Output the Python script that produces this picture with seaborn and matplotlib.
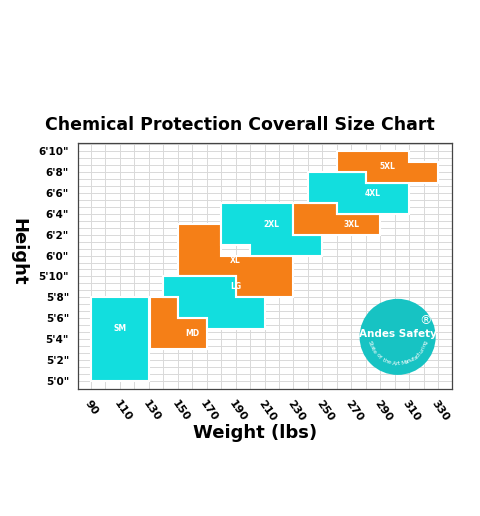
import numpy as np
import matplotlib
matplotlib.use("Agg")
import matplotlib.pyplot as plt
from matplotlib.patches import Polygon, Ellipse
import seaborn as sns

sns.set_style("white")
plt.rcParams['font.family'] = ['DejaVu Sans']
plt.rcParams['text.color'] = 'black'
plt.rcParams['xtick.color'] = 'black'
plt.rcParams['ytick.color'] = 'black'

# size outlines: (weight lbs, height inches)
sizes = ["SM", "MD", "LG", "XL", "2XL", "3XL", "4XL", "5XL"]
outlines = {
    "SM": [(90, 60), (130, 60), (130, 68), (90, 68)],
    "MD": [(131, 63), (170, 63), (170, 66), (150, 66), (150, 68), (131, 68)],
    "XL": [(150, 70), (150, 75), (180, 75), (180, 72), (230, 72), (230, 68), (190, 68), (190, 70)],
    "LG": [(140, 70), (190, 70), (190, 68), (210, 68), (210, 65), (170, 65), (170, 66), (150, 66), (150, 68), (140, 68)],
    "2XL": [(180, 77), (230, 77), (230, 74), (250, 74), (250, 72), (200, 72), (200, 73), (180, 73)],
    "3XL": [(230, 74), (290, 74), (290, 76), (260, 76), (260, 77), (230, 77)],
    "4XL": [(240, 77), (240, 80), (280, 80), (280, 79), (310, 79), (310, 76), (260, 76), (260, 77)],
    "5XL": [(260, 82), (310, 82), (310, 81), (330, 81), (330, 79), (280, 79), (280, 80), (260, 80)],
}
label_pos = {"SM": (110, 65), "MD": (160, 64.5), "LG": (190, 69), "XL": (190, 71.5),
             "2XL": (215, 75), "3XL": (270, 75), "4XL": (285, 78), "5XL": (295, 80.5)}
colors = {"SM": "#12DEDE", "MD": "#F57F17", "LG": "#12DEDE", "XL": "#F57F17",
          "2XL": "#12DEDE", "3XL": "#F57F17", "4XL": "#12DEDE", "5XL": "#F57F17"}
draw_order = ["SM", "MD", "XL", "LG", "2XL", "3XL", "4XL", "5XL"]

x_ticks = list(range(90, 331, 20))
y_ticks = list(range(60, 83, 2))
y_labels = ['5\'0"', '5\'2"', '5\'4"', '5\'6"', '5\'8"', '5\'10"', '6\'0"',
            '6\'2"', '6\'4"', '6\'6"', '6\'8"', '6\'10"']

fig = plt.figure(figsize=(4.8, 5.16), dpi=100)
ax = fig.add_axes([78 / 480, 1 - 389 / 516, 374 / 480, 246 / 516])
ax.set_xlim(81, 339.6)
ax.set_ylim(59.2, 82.8)

for x in range(90, 331, 10):
    ax.axvline(x, color="#d9d9d9", lw=0.7, zorder=0)
for y in np.arange(60, 83, 2 / 3):
    ax.axhline(y, color="#d9d9d9", lw=0.7, zorder=0)

for s in draw_order:
    ax.add_patch(Polygon(outlines[s], closed=True, fc=colors[s], ec="white", lw=1.5, zorder=2))
for s in sizes:
    ax.text(*label_pos[s], s, color="white", fontsize=5.5, fontweight="bold",
            ha="center", va="center", zorder=3)

# logo
cx, cy = 302, 64.2
ax.add_patch(Ellipse((cx, cy), 52.6, 7.3, fc="#17C3C3", ec="none", zorder=3))
ax.text(cx, cy + 0.3, "Andes Safety", color="white", fontsize=7.5, fontweight="bold",
        ha="center", va="center", zorder=4)
ax.text(cx + 19, cy + 1.6, "®", color="white", fontsize=9, ha="center", va="center", zorder=4)
sub = "State of the Art Manufacturing"
angles = np.linspace(195, 345, len(sub))
for ch, a in zip(sub, angles):
    r = 0.76
    px = cx + r * 26.3 * np.cos(np.radians(a))
    py = cy + 0.2 + r * 3.65 * np.sin(np.radians(a))
    ax.text(px, py, ch, color="white", fontsize=4.3, ha="center", va="center",
            rotation=a + 90, zorder=4)

ax.set_xticks(x_ticks)
ax.set_xticklabels([str(v) for v in x_ticks], rotation=-55, ha="left",
                   rotation_mode="anchor", fontsize=8, fontweight="bold")
ax.set_yticks(y_ticks)
ax.set_yticklabels(y_labels, fontsize=7.5, fontweight="bold")
ax.tick_params(length=3, width=0.8, color="#555555")
for sp in ax.spines.values():
    sp.set_color("#444444")
    sp.set_linewidth(0.9)

fig.text(0.5, 1 - 125 / 516, "Chemical Protection Coverall Size Chart",
         ha="center", va="center", fontsize=12.5, fontweight="bold")
fig.text(18 / 480, 1 - 252 / 516, "Height", rotation=-90, ha="center", va="center",
         fontsize=13, fontweight="bold")
fig.text(255 / 480, 1 - 433 / 516, "Weight (lbs)", ha="center", va="center",
         fontsize=13, fontweight="bold")

fig.savefig("out.png", dpi=100)
